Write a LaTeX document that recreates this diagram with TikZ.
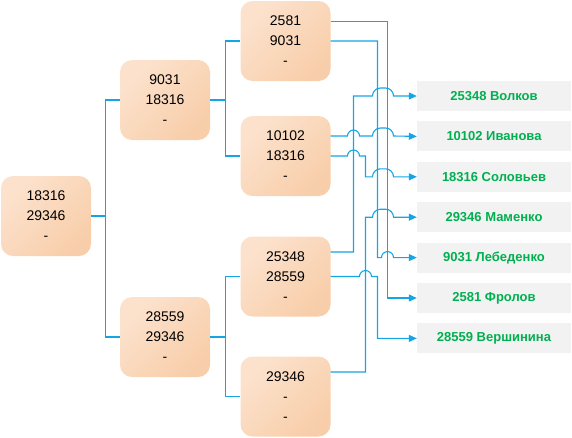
\documentclass[tikz,border=0pt]{standalone}
\usepackage{fontspec}
\setmainfont{Liberation Sans}
\usetikzlibrary{arrows.meta, positioning, calc}
\definecolor{peachA}{RGB}{252,226,205}
\definecolor{peachB}{RGB}{248,206,170}
\definecolor{wirec}{RGB}{20,165,228}
\definecolor{good}{RGB}{0,176,80}
\definecolor{tagfill}{RGB}{242,242,242}
% line hops over crossing wires
\newcommand{\jump}{arc[start angle=180, end angle=0, radius=6pt]}
\newcommand{\jumpwide}{arc[start angle=180, end angle=90, radius=8pt] -- ++(5pt,0pt) arc[start angle=90, end angle=0, radius=8pt]}

\begin{document}
\begin{tikzpicture}[x=1pt, y=-1pt,
      box/.style={rounded corners=12pt, top color=peachA, bottom color=peachB,
                  shading angle=45, minimum width=90pt, minimum height=80pt,
                  inner sep=0pt, align=center, font=\fontsize{14}{20}\selectfont},
      tag/.style={fill=tagfill, minimum width=154pt, minimum height=30pt,
                  inner sep=0pt, text=good, font=\fontsize{13}{15}\selectfont\bfseries},
      wire/.style={draw=wirec, line width=1.1pt},
      arr/.style={wire, -{Triangle[length=8pt,width=7pt]}}
    ]
    \useasboundingbox (0,0) rectangle (572,437);
    % tree
    \node[box] (r)  at (46,216)    {18316\\29346\\-};
    \node[box] (a)  at (165,100)   {9031\\18316\\-};
    \node[box] (b)  at (165,337)   {28559\\29346\\-};
    \node[box] (a1) at (285.5,41)  {2581\\9031\\-};
    \node[box] (a2) at (285.5,156) {10102\\18316\\-};
    \node[box] (b1) at (285.5,276.5) {25348\\28559\\-};
    \node[box] (b2) at (285.5,396.5) {29346\\-\\-};
    % names
    \node[tag] (t1) at (494,96)     {25348 Волков};
    \node[tag, below=10pt of t1] (t2) {10102 Иванова};
    \node[tag, below=10pt of t2] (t3) {18316 Соловьев};
    \node[tag, below=10pt of t3] (t4) {29346 Маменко};
    \node[tag, below=10pt of t4] (t5) {9031 Лебеденко};
    \node[tag, below=10pt of t5] (t6) {2581 Фролов};
    \node[tag, below=10pt of t6] (t7) {28559 Вершинина};
    % channels and ports
    \coordinate (c1) at (353.5,0);
    \coordinate (c2) at (365.5,0);
    \coordinate (c3) at (377.5,0);
    \coordinate (c4) at (387.5,0);
    \coordinate (a1p) at ([yshift=19.5pt]a1.east);
    \coordinate (a2p) at ([yshift=20pt]a2.east);
    \coordinate (b1p) at ([yshift=24.5pt]b1.east);
    \coordinate (b2p) at ([yshift=24.5pt]b2.east);

    \draw[wire] (r.east) -- ++(14,0) |- (a.west);
    \draw[wire] (r.east) -- ++(14,0) |- (b.west);
    \draw[wire] (a.east) -- ++(15,0) |- (a1.west);
    \draw[wire] (a.east) -- ++(15,0) |- (a2.west);
    \draw[wire] (b.east) -- ++(15,0) |- (b1.west);
    \draw[wire] (b.east) -- ++(15,0) |- (b2.west);

    \draw[arr] (a1p) -- (a1p -| c4) |- (t6.west);
    \draw[arr] (a1.east) -- (a1.east -| c3) -- (c3 |- t5.west)
      -- ($(c4 |- t5.west)+(-6pt,0pt)$) \jump -- (t5.west);
    \draw[arr] (a2p) -- ($(a2p -| c1)+(-6pt,0pt)$) \jump
      -- ($(a2p -| c3)+(-5pt,0pt)$) \jumpwide -- (t2.west);
    \draw[arr] (a2.east) -- ($(a2.east -| c1)+(-6pt,0pt)$) \jump -- (a2.east -| c2)
      -- (c2 |- t3.west) -- ($(c3 |- t3.west)+(-5pt,0pt)$) \jumpwide -- (t3.west);
    \draw[arr] (b1p) -- (b1p -| c1) -- (c1 |- t1.west)
      -- ($(c3 |- t1.west)+(-5pt,0pt)$) \jumpwide -- (t1.west);
    \draw[arr] (b1.east) -- ($(b1.east -| c2)+(-6pt,0pt)$) \jump
      -- (b1.east -| c3) |- (t7.west);
    \draw[arr] (b2p) -- (b2p -| c2) -- (c2 |- t4.west)
      -- ($(c3 |- t4.west)+(-5pt,0pt)$) \jumpwide -- (t4.west);
  \end{tikzpicture}
\end{document}
